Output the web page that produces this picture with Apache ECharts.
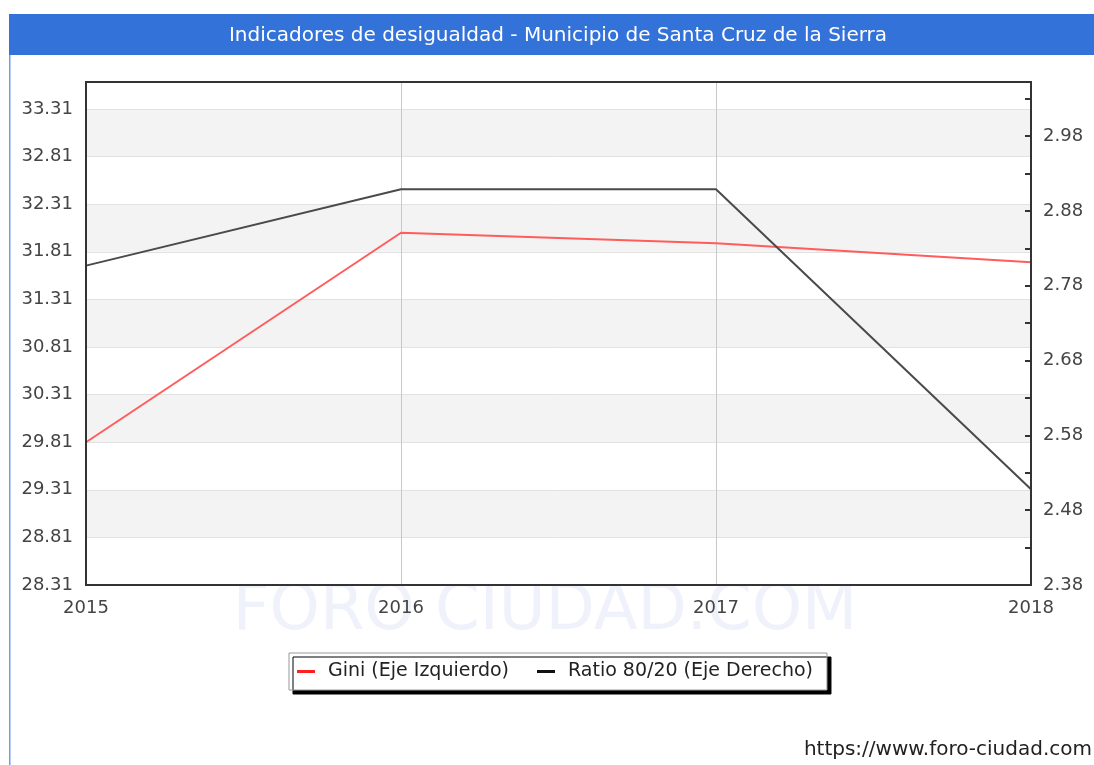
<!DOCTYPE html>
<html>
<head>
<meta charset="utf-8">
<script src="https://cdn.jsdelivr.net/npm/echarts@6/dist/echarts.min.js"></script>
<style>
  html, body { margin: 0; padding: 0; background: #fff; }
  #chart { width: 1094px; height: 765px; }
</style>
</head>
<body>
<div id="chart"></div>
<script>
// datos
const years = ['2015', '2016', '2017', '2018']
const gini = [29.81, 32.01, 31.90, 31.70]
const ratio = [2.807, 2.909, 2.909, 2.508]

const font = 'DejaVu Sans'
const chart = echarts.init(document.getElementById('chart'))

chart.setOption({
  animation: false,
  textStyle: { fontFamily: font },
  graphic: [
    { type: 'rect', shape: { x: 9, y: 14, width: 1090, height: 41 }, style: { fill: '#3372d9' } },
    { type: 'rect', shape: { x: 9, y: 55, width: 1.5, height: 720 }, style: { fill: '#6f9de6' } },
    {
      type: 'text', x: 558, y: 36,
      style: { text: 'Indicadores de desigualdad - Municipio de Santa Cruz de la Sierra', fill: '#fff', font: '20px "DejaVu Sans"', align: 'center', verticalAlign: 'middle' }
    },
    {
      type: 'text', x: 545, y: 612, z: -1,
      style: { text: 'FORO CIUDAD.COM', fill: 'rgba(225,230,248,0.5)', font: '64px "DejaVu Sans"', align: 'center', verticalAlign: 'middle' }
    },
    {
      type: 'text', x: 1092, y: 750,
      style: { text: 'https://www.foro-ciudad.com', fill: '#222', font: '20px "DejaVu Sans"', align: 'right', verticalAlign: 'middle' }
    },
    {
      type: 'rect', shape: { x: 86, y: 82, width: 945, height: 503 }, z: 10,
      style: { fill: 'none', stroke: '#333', lineWidth: 2 }
    }
  ],
  legend: {
    left: 289, top: 653,
    padding: [9, 14, 9, 8],
    itemGap: 28,
    itemWidth: 18, itemHeight: 3,
    icon: 'rect',
    backgroundColor: '#fff',
    borderColor: '#999', borderWidth: 1,
    shadowColor: '#000', shadowBlur: 0, shadowOffsetX: 4, shadowOffsetY: 4,
    textStyle: { fontSize: 19, color: '#222', fontFamily: font, padding: [0, 0, 0, 8] },
    data: ['Gini (Eje Izquierdo)', 'Ratio 80/20 (Eje Derecho)']
  },
  grid: { left: 86, top: 82, right: 63, bottom: 180 },
  xAxis: {
    type: 'category',
    data: years,
    boundaryGap: false,
    axisLine: { show: false },
    axisTick: { show: false },
    axisLabel: { fontSize: 18, color: '#444', margin: 14 },
    splitLine: { show: true, lineStyle: { color: '#c8c8c8' } }
  },
  yAxis: [
    {
      type: 'value', min: 28.31, max: 33.594, interval: 0.5,
      axisLine: { show: false }, axisTick: { show: false },
      axisLabel: { fontSize: 18, color: '#444', margin: 13, showMaxLabel: false, formatter: v => v.toFixed(2) },
      splitLine: { show: true, lineStyle: { color: '#e2e2e2' } },
      splitArea: { show: true, areaStyle: { color: ['#fff', '#f3f3f3'] } }
    },
    {
      type: 'value', min: 2.38, max: 3.0525, interval: 0.05,
      axisLine: { show: false },
      axisTick: { show: true, inside: true, length: 6, lineStyle: { color: '#333', width: 2 } },
      axisLabel: {
        fontSize: 18, color: '#444', margin: 12, showMaxLabel: false,
        formatter: v => (Math.round((v - 2.38) / 0.05) % 2 === 0 ? v.toFixed(2) : '')
      },
      splitLine: { show: false }
    }
  ],
  series: [
    {
      name: 'Gini (Eje Izquierdo)', type: 'line', yAxisIndex: 0,
      data: gini, symbol: 'none', color: '#ff2020',
      lineStyle: { width: 2, color: '#ff5c5c' }
    },
    {
      name: 'Ratio 80/20 (Eje Derecho)', type: 'line', yAxisIndex: 1,
      data: ratio, symbol: 'none', color: '#111',
      lineStyle: { width: 2, color: '#4a4a4a' }
    }
  ]
})
</script>
</body>
</html>
